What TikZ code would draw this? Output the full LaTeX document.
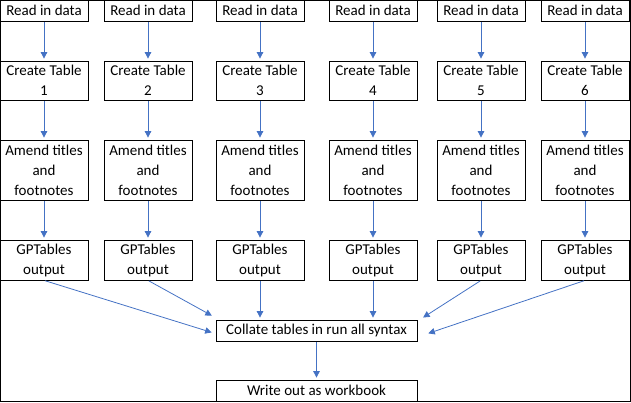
\documentclass[tikz,border=0pt]{standalone}
\usepackage{fontspec}
\setmainfont{Carlito}
\usetikzlibrary{arrows.meta}
\usetikzlibrary{positioning}
\usetikzlibrary{calc}
\definecolor{flowblue}{RGB}{68,114,196}
\tikzset{>={Triangle[length=6.5pt,width=6.5pt]}}
\tikzstyle{box} = [draw, 
rectangle, line width=0.8pt, minimum width=88pt, inner sep=0pt, align=center]
\tikzstyle{line} = [draw, 
->, line width=0.8pt, shorten >=2pt, shorten <=1pt,
color=flowblue]

\begin{document}
\begin{tikzpicture}[x=1pt, y=-1pt, font=\fontsize{15}{20}\selectfont]
    \useasboundingbox (0,0) rectangle (631,402);
    \draw [line width=1pt] (0.5,0.5) rectangle (630.5,401.5);
    %% Collate and output
    \node [box, minimum width=201pt, minimum height=21pt] (collate) at (316.5,330.5) {Collate tables in run all syntax};
    \node [box, minimum width=201pt, minimum height=21pt] (write) at (316.5,390.5) {Write out as workbook};
    %% Columns
    \foreach \n/\x in {1/44,2/148,3/260,4/373,5/481,6/585} {
      \node [box, minimum height=21pt] (read\n) at (\x,10.5) {Read in data};
      \node [box, minimum height=39pt] (create\n) at (\x,80.5) {Create Table\\\n};
      \node [box, minimum height=60pt] (amend\n) at (\x,170) {Amend titles\\and\\footnotes};
      \node [box, minimum height=40pt] (gp\n) at (\x,260) {GPTables\\output};
      \path [line] (read\n) -- (create\n);
      \path [line] (create\n) -- (amend\n);
      \path [line] (amend\n) -- (gp\n);
    }
    \coordinate (inA) at ($(collate.west)+(-2,2.5)$);
    \coordinate (inB) at ($(collate.north west)+(-2,-3)$);
    \coordinate (inE) at ($(collate.north east)+(4,-1)$);
    \coordinate (inF) at ($(collate.east)+(9,3.5)$);
    %% Flows
    \path [line] (gp1.south) -- (inA);
    \path [line] (gp2.south) -- (inB);
    \path [line] (gp3) -- (gp3 |- collate.north);
    \path [line] (gp4) -- (gp4 |- collate.north);
    \path [line] (gp5.south) -- (inE);
    \path [line] (gp6.south) -- (inF);
    \path [line] (collate) -- (write);
\end{tikzpicture}
\end{document}
